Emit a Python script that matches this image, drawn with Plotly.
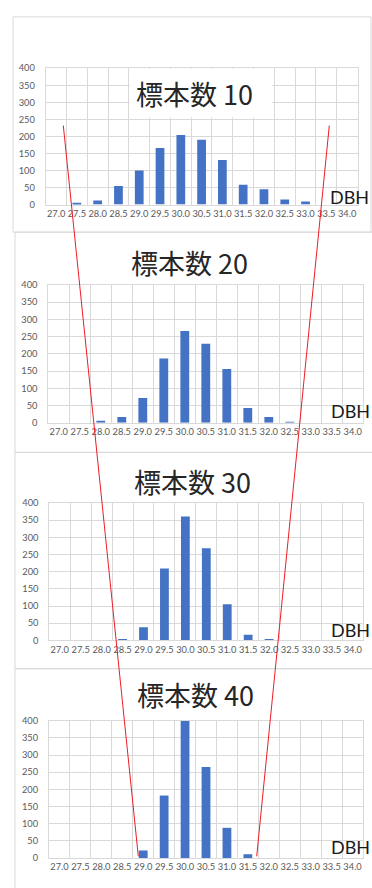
import plotly.graph_objects as go

# DBH classes (cm)
dbh_classes = ["27.0", "27.5", "28.0", "28.5", "29.0", "29.5", "30.0", "30.5",
               "31.0", "31.5", "32.0", "32.5", "33.0", "33.5", "34.0"]

# Frequency of the sample mean for each sample size
counts_n10 = [0, 5, 12, 54, 100, 166, 204, 190, 131, 58, 45, 15, 9, 0, 0]
counts_n20 = [0, 0, 3, 17, 72, 186, 266, 229, 156, 43, 17, 2, 0, 0, 0]
counts_n30 = [0, 0, 0, 4, 38, 209, 361, 268, 105, 16, 4, 0, 0, 0, 0]
counts_n40 = [0, 0, 0, 0, 22, 182, 400, 265, 88, 11, 0, 0, 0, 0, 0]

panel_titles = ["標本数 10", "標本数 20", "標本数 30", "標本数 40"]
y_ticks = [0, 50, 100, 150, 200, 250, 300, 350, 400]

W, H = 372, 888


def px(x):
    return x / W


def py(y):
    return 1 - y / H


series = [counts_n10, counts_n20, counts_n30, counts_n40]

# plot-area boxes (left, top, right, bottom) in pixels
plot_boxes = [(45.7, 63.0, 357.5, 201.0),
              (48.3, 282.3, 363.3, 422.0),
              (49.3, 503.3, 363.3, 642.3),
              (49.0, 723.7, 363.0, 862.7)]
# chart frames
frames = [(13, 11, 371, 229), (15, 229, 380, 452),
          (15, 452, 380, 671), (15, 671, 380, 895)]
title_pos = [(194, 88.5), (189, 260), (192, 481), (195, 697)]
# right edge / vertical centre of the axis name
dbh_pos = [(370.5, 193.5), (371.5, 410), (371.5, 631.5), (371.5, 851.5)]

BLUE = "#4472C4"
GRID = "#d9d9d9"
LABEL = "#595959"
TICKFONT = dict(family="Lato", size=9.3, color=LABEL)

fig = go.Figure()
shapes = []
annotations = []

for i, vals in enumerate(series):
    n = "" if i == 0 else str(i + 1)
    xa, ya = "x" + n, "y" + n
    fig.add_trace(go.Bar(x=dbh_classes, y=vals, xaxis=xa, yaxis=ya,
                         marker=dict(color=BLUE, line=dict(width=0)),
                         width=0.42, showlegend=False))
    l, t, r, b = plot_boxes[i]
    fig.update_layout(**{
        "xaxis" + n: dict(
            domain=[px(l), px(r)], anchor=ya, type="category",
            categoryorder="array", categoryarray=dbh_classes,
            range=[-0.5, len(dbh_classes) - 0.5],
            tickmode="linear", tick0=0, dtick=1, tickson="boundaries",
            showgrid=True, gridcolor=GRID, gridwidth=1,
            showline=True, linecolor=GRID, linewidth=1, mirror=True,
            ticks="outside", ticklen=9, tickcolor="rgba(0,0,0,0)",
            tickangle=0, tickfont=TICKFONT, fixedrange=True,
        ),
        "yaxis" + n: dict(
            domain=[py(b), py(t)], anchor=xa, range=[0, 400],
            tickmode="array", tickvals=y_ticks,
            showgrid=True, gridcolor=GRID, gridwidth=1, zeroline=False,
            showline=True, linecolor=GRID, linewidth=1, mirror=True,
            ticks="outside", ticklen=8, tickcolor="rgba(0,0,0,0)",
            tickfont=TICKFONT, fixedrange=True,
        ),
    })

    fl, ft, fr, fb = frames[i]
    shapes.append(dict(type="rect", xref="paper", yref="paper",
                       x0=px(fl), x1=px(fr), y0=py(fb), y1=py(ft),
                       line=dict(color=GRID, width=1), layer="below"))

    tx, ty = title_pos[i]
    annotations.append(dict(text=panel_titles[i], xref="paper", yref="paper",
                            x=px(tx), y=py(ty), xanchor="center", yanchor="middle",
                            showarrow=False,
                            font=dict(family="Noto Sans CJK JP", size=27, color="#262626")))
    dx, dy = dbh_pos[i]
    annotations.append(dict(text="DBH", xref="paper", yref="paper",
                            x=px(dx), y=py(dy), xanchor="right", yanchor="middle",
                            showarrow=False,
                            font=dict(family="Lato", size=18, color="#1a1a1a")))

# white title box sitting over the first chart's grid
shapes.append(dict(type="rect", xref="paper", yref="paper",
                   x0=px(130), x1=px(272), y0=py(113), y1=py(63.5),
                   fillcolor="white", line=dict(width=0), layer="above"))

# red funnel lines narrowing with sample size
shapes.append(dict(type="line", xref="paper", yref="paper",
                   x0=px(63.3), y0=py(121), x1=px(138.3), y1=py(861),
                   line=dict(color="#ee1c25", width=1), layer="above"))
shapes.append(dict(type="line", xref="paper", yref="paper",
                   x0=px(329.3), y0=py(121), x1=px(256.7), y1=py(861),
                   line=dict(color="#ee1c25", width=1), layer="above"))

fig.update_layout(width=W, height=H, margin=dict(l=0, r=0, t=0, b=0),
                  paper_bgcolor="white", plot_bgcolor="white",
                  bargap=0.58, shapes=shapes, annotations=annotations,
                  showlegend=False)

fig.write_html("out.html", config={"displayModeBar": False})
